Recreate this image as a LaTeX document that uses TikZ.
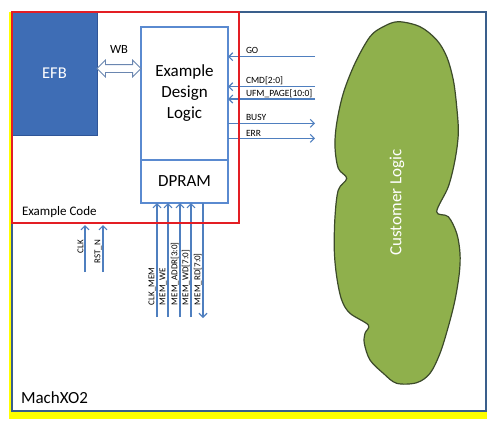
\documentclass[tikz,border=0pt]{standalone}
\usepackage{fontspec}
\setmainfont{Carlito}
\usetikzlibrary{arrows.meta}
\usetikzlibrary{shapes.arrows}
\usetikzlibrary{calc}

\definecolor{framecol}{HTML}{3A5F8C}
\definecolor{shadecol}{HTML}{FFFF00}
\definecolor{codered}{HTML}{E31E24}
\definecolor{efbfill}{HTML}{3E6DB5}
\definecolor{efbline}{HTML}{2F5597}
\definecolor{delblue}{HTML}{5A8AD0}
\definecolor{sigblue}{HTML}{4F7FBF}
\definecolor{wbline}{HTML}{6A86B0}
\definecolor{custfill}{HTML}{8FB04C}
\definecolor{custline}{HTML}{3C4A2A}

\begin{document}
\begin{tikzpicture}[x=1pt, y=-1pt, every node/.style={inner sep=0pt,outer sep=0pt},
    sig/.style={draw=sigblue, line width=1.1pt},
    tip/.style={-{Straight Barb[length=4pt,width=8pt]}},
    sname/.style={font=\fontsize{9.5}{11}\selectfont, anchor=west},
    vname/.style={font=\fontsize{9}{10}\selectfont, rotate=90}]
      \useasboundingbox (0,0) rectangle (501,432);
      \fill[shadecol] (9,12) rectangle (487,419);
      \draw (249,211.5) node[draw=framecol, line width=2pt, fill=white, minimum width=474, minimum height=399] (mxo) {};

      \draw (54.5,73.5) node[draw=efbline, line width=0.8pt, fill=efbfill, minimum width=85, minimum height=123, text=white, font=\fontsize{16.5}{20}\selectfont] (efb) {EFB};
      \draw (184.5,93.5) node[draw=delblue, line width=1.5pt, fill=white, minimum width=87, minimum height=133, align=center, font=\fontsize{17}{21}\selectfont] (del) {Example\\Design\\Logic};
      \draw (184.5,181.5) node[draw=delblue, line width=1.5pt, fill=white, minimum width=87, minimum height=43, font=\fontsize{17}{21}\selectfont] (dpram) {DPRAM};
      \draw (119,68.5) node[double arrow, draw=wbline, line width=0.8pt, fill=white, inner xsep=0pt, inner ysep=3.5pt, minimum height=44, double arrow head extend=4.5, double arrow tip angle=90] (wb) {};
      \draw (119,53) node[anchor=base, font=\fontsize{12.5}{15}\selectfont] (wbname) {WB};

      \draw[custline, line width=1.2pt, fill=custfill] plot[smooth cycle, tension=0.55] coordinates {
        (398.3,21.7) (420,26.7) (436.7,40) (446.7,56.7) (453.3,80) (456.7,106.7)
        (458.3,133.3) (455,160) (448.3,186.7) (436.7,211.7) (448.3,216.7) (456.7,233.3)
        (460,253.3) (459.3,273.3) (455,300) (448.3,326.7) (440,353.3) (430,373.3)
        (416.7,382.7) (396.7,383.3) (383.3,373.3) (370,360) (364.3,343.3) (365,333.3)
        (368.3,325) (350,313.3) (341.7,300) (336.7,276.7) (334.3,250) (335,216.7)
        (338.3,190) (346.7,178.3) (338.3,168.3) (335,146.7) (336.7,123.3) (343.3,93.3)
        (355,63.3) (370,36.7) (383.3,26.7)};
      \draw (397,202.5) node[rotate=90, text=white, font=\fontsize{17}{20}\selectfont] (cust) {Customer Logic};

      \coordinate (go) at (315,56.7);
      \coordinate (cmd) at (315,86.7);
      \coordinate (ufm) at (315,99);
      \coordinate (busy) at (315,123.3);
      \coordinate (err) at (315,138.3);

      \draw[sig, tip] (go) -- (go -| del.east);
      \draw[sig, tip] (cmd) -- (cmd -| del.east);
      \draw[sig, tip] (ufm) -- (ufm -| del.east);
      \draw[sig, tip] (busy -| del.east) -- (busy);
      \draw[sig, tip] (err -| del.east) -- (err);

      \draw (246,50.7) node[sname] (goname) {GO};
      \draw (246,80.7) node[sname] (cmdname) {CMD[2:0]};
      \draw (246,93.3) node[sname] (ufmname) {UFM\_PAGE[10:0]};
      \draw (246,117.3) node[sname] (busyname) {BUSY};
      \draw (246,133) node[sname] (errname) {ERR};

      \coordinate (clkmem) at (157,317);
      \coordinate (memwe) at (168,317);
      \coordinate (memaddr) at (180,317);
      \coordinate (memwd) at (191,317);
      \coordinate (memrd) at (203,318);

      \draw[sig, tip] (clkmem) -- (clkmem |- dpram.south);
      \draw[sig, tip] (memwe) -- (memwe |- dpram.south);
      \draw[sig, tip] (memaddr) -- (memaddr |- dpram.south);
      \draw[sig, tip] (memwd) -- (memwd |- dpram.south);
      \draw[sig, tip] (memrd |- dpram.south) -- (memrd);

      \draw (155.5,305) node[vname, anchor=south west] (clkmemname) {CLK\_MEM};
      \draw (166.5,305) node[vname, anchor=south west] (memwename) {MEM\_WE};
      \draw (178.5,305) node[vname, anchor=south west] (memaddrname) {MEM\_ADDR[3:0]};
      \draw (189.5,305) node[vname, anchor=south west] (memwdname) {MEM\_WD[7:0]};
      \draw (201.5,305) node[vname, anchor=south west] (memrdname) {MEM\_RD[7:0]};

      \draw (125.5,117.5) node[draw=codered, line width=1.5pt, minimum width=227, minimum height=211] (code) {};
      \draw (22,215) node[anchor=base west, font=\fontsize{13}{15}\selectfont] (codename) {Example Code};

      \coordinate (clk) at (85,272);
      \coordinate (rstn) at (103,272);
      \draw[sig, tip] (clk) -- ($(clk |- code.south)+(0,2)$);
      \draw[sig, tip] (rstn) -- ($(rstn |- code.south)+(0,2)$);
      \draw (83.5,240) node[vname, anchor=south east] (clkname) {CLK};
      \draw (101.5,240) node[vname, anchor=south east] (rstnname) {RST\_N};

      \draw (21,403) node[anchor=base west, font=\fontsize{17}{20}\selectfont] (mxoname) {MachXO2};
    \end{tikzpicture}
\end{document}
